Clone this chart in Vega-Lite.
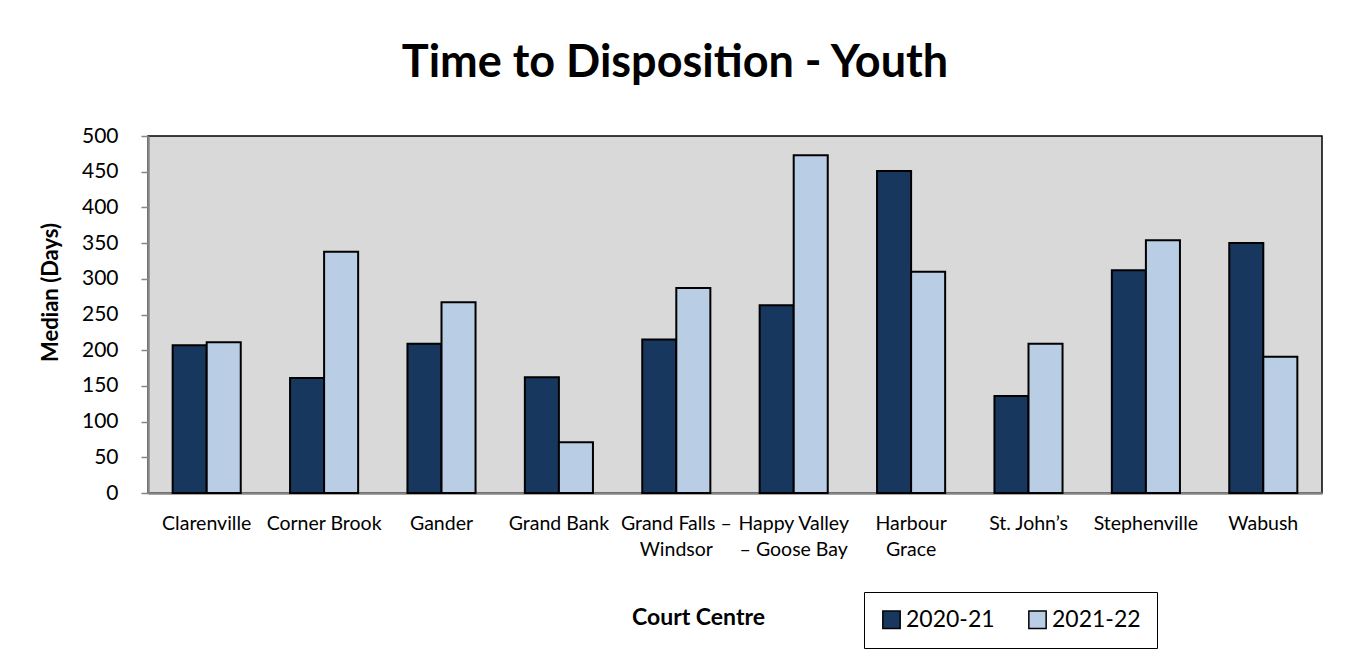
{
  "$schema": "https://vega.github.io/schema/vega-lite/v6.json",
  "width": 1174,
  "height": 357,
  "autosize": {"type": "none"},
  "padding": {"left": 148, "top": 136, "right": 25, "bottom": 163},
  "background": "#ffffff",
  "title": {
    "text": "Time to Disposition - Youth",
    "font": "Lato",
    "fontSize": 45,
    "fontWeight": "bold",
    "color": "#000000",
    "anchor": "middle",
    "baseline": "alphabetic",
    "offset": 3,
    "dx": -60
  },
  "data": {
    "values": [
      {"centre": "Clarenville", "year": "2020-21", "days": 207},
      {"centre": "Clarenville", "year": "2021-22", "days": 211},
      {"centre": "Corner Brook", "year": "2020-21", "days": 161},
      {"centre": "Corner Brook", "year": "2021-22", "days": 338},
      {"centre": "Gander", "year": "2020-21", "days": 209},
      {"centre": "Gander", "year": "2021-22", "days": 267},
      {"centre": "Grand Bank", "year": "2020-21", "days": 162},
      {"centre": "Grand Bank", "year": "2021-22", "days": 71},
      {"centre": "Grand Falls – Windsor", "year": "2020-21", "days": 215},
      {"centre": "Grand Falls – Windsor", "year": "2021-22", "days": 287},
      {"centre": "Happy Valley – Goose Bay", "year": "2020-21", "days": 263},
      {"centre": "Happy Valley – Goose Bay", "year": "2021-22", "days": 473},
      {"centre": "Harbour Grace", "year": "2020-21", "days": 451},
      {"centre": "Harbour Grace", "year": "2021-22", "days": 310},
      {"centre": "St. John’s", "year": "2020-21", "days": 136},
      {"centre": "St. John’s", "year": "2021-22", "days": 209},
      {"centre": "Stephenville", "year": "2020-21", "days": 312},
      {"centre": "Stephenville", "year": "2021-22", "days": 354},
      {"centre": "Wabush", "year": "2020-21", "days": 350},
      {"centre": "Wabush", "year": "2021-22", "days": 191}
    ]
  },
  "mark": {"type": "bar", "stroke": "#000000", "strokeWidth": 2},
  "encoding": {
    "x": {
      "field": "centre",
      "type": "nominal",
      "sort": null,
      "scale": {"paddingInner": 0.42, "paddingOuter": 0.21},
      "axis": {
        "title": "Court Centre",
        "titleFont": "Lato",
        "titleFontSize": 23,
        "titleFontWeight": "bold",
        "titleColor": "#000000",
        "titleX": 550,
        "titleY": 124,
        "titleBaseline": "middle",
        "titleAlign": "center",
        "labelAngle": 0,
        "labelFont": "Lato",
        "labelFontSize": 19.5,
        "labelColor": "#000000",
        "labelPadding": 21,
        "labelLineHeight": 26,
        "labelBaseline": "top",
        "ticks": false,
        "tickSize": 0,
        "domainColor": "#868686",
        "domainWidth": 2.5,
        "labelExpr": "datum.value == 'Grand Falls – Windsor' ? ['Grand Falls –', 'Windsor'] : datum.value == 'Happy Valley – Goose Bay' ? ['Happy Valley', '– Goose Bay'] : datum.value == 'Harbour Grace' ? ['Harbour', 'Grace'] : datum.label"
      }
    },
    "xOffset": {"field": "year", "type": "nominal", "scale": {"paddingInner": 0, "paddingOuter": 0}},
    "y": {
      "field": "days",
      "type": "quantitative",
      "scale": {"domain": [0, 500], "nice": false},
      "axis": {
        "title": "Median (Days)",
        "titleFont": "Lato",
        "titleFontSize": 22,
        "titleFontWeight": "bold",
        "titleColor": "#000000",
        "titleAngle": -90,
        "titleX": -98,
        "titleY": 156,
        "titleAlign": "center",
        "titleBaseline": "middle",
        "values": [0, 50, 100, 150, 200, 250, 300, 350, 400, 450, 500],
        "labelFont": "Lato",
        "labelFontSize": 21,
        "labelColor": "#000000",
        "labelPadding": 23,
        "tickSize": 7,
        "tickColor": "#868686",
        "tickWidth": 1.5,
        "domainColor": "#868686",
        "domainWidth": 2.5,
        "grid": false
      }
    },
    "color": {
      "field": "year",
      "type": "nominal",
      "scale": {"domain": ["2020-21", "2021-22"], "range": ["#17375E", "#B9CDE5"]},
      "legend": {
        "title": null,
        "orient": "none",
        "legendX": 716,
        "legendY": 456,
        "direction": "horizontal",
        "symbolType": "square",
        "symbolSize": 300,
        "symbolStrokeColor": "#000000",
        "symbolStrokeWidth": 1.5,
        "labelFont": "Lato",
        "labelFontSize": 23,
        "labelColor": "#000000",
        "labelOffset": 3,
        "columnPadding": 30,
        "padding": 16,
        "strokeColor": "#000000",
        "fillColor": "#ffffff"
      }
    }
  },
  "config": {
    "view": {"fill": "#D9D9D9", "stroke": "#000000", "strokeWidth": 1.5}
  }
}
